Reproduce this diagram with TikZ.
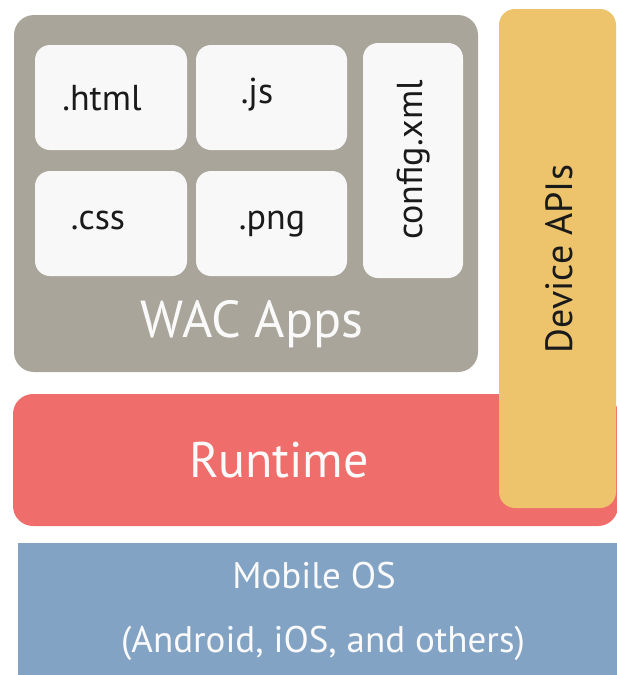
\documentclass[tikz,border=0pt]{standalone}
\usepackage{fontspec}
\setmainfont{PT Sans}
\definecolor{wacgray}{HTML}{A9A59A}
\definecolor{filebox}{HTML}{F8F8F8}
\definecolor{runred}{HTML}{EF6E6C}
\definecolor{devyellow}{HTML}{EDC46C}
\definecolor{osblue}{HTML}{82A3C3}
\definecolor{darktext}{HTML}{1A1A1A}
\definecolor{lighttext}{HTML}{FAFAFA}
\begin{document}
\begin{tikzpicture}[x=1pt,y=-1pt,
  panel/.style={rectangle, inner sep=0pt, outer sep=0pt, anchor=north west, draw=none},
  filecard/.style={panel, fill=filebox, rounded corners=15pt},
  filetext/.style={anchor=base, inner sep=0pt, text=darktext, font=\fontsize{36}{40}\selectfont},
  bigtext/.style={anchor=base, inner sep=0pt, text=lighttext}]
\useasboundingbox (0,0) rectangle (617,675);
\clip (0,0) rectangle (617,675);
% Mobile OS layer
\node[panel, fill=osblue, minimum width=640pt, minimum height=150pt] (os) at (18,543) {};
\node[bigtext, font=\fontsize{37}{42}\selectfont] (ostitle) at (314,588) {Mobile OS};
\node[bigtext, font=\fontsize{37}{42}\selectfont] (ossub) at (323,652) {(Android, iOS, and others)};
% Runtime layer
\node[panel, fill=runred, rounded corners=20pt, minimum width=605pt, minimum height=132pt] (runtime) at (13,394) {};
\node[bigtext, font=\fontsize{50}{56}\selectfont] (runtitle) at (279,477) {Runtime};
% Device APIs
\node[panel, fill=devyellow, rounded corners=16pt, minimum width=117pt, minimum height=499pt] (device) at (499,9) {};
\node[anchor=base, inner sep=0pt, text=darktext, rotate=90, font=\fontsize{38}{44}\selectfont] (devtitle) at (572,259) {Device APIs};
% WAC Apps
\node[panel, fill=wacgray, rounded corners=20pt, minimum width=464pt, minimum height=357pt] (wac) at (14,15) {};
\node[bigtext, font=\fontsize{52}{58}\selectfont] (wactitle) at (252,337) {WAC Apps};
% file cards
\node[filecard, minimum width=152pt, minimum height=105pt] (html) at (35,45) {};
\node[filecard, minimum width=151pt, minimum height=105pt] (js) at (196,45) {};
\node[filecard, minimum width=152pt, minimum height=105pt] (css) at (35,171) {};
\node[filecard, minimum width=151pt, minimum height=105pt] (png) at (196,171) {};
\node[filecard, minimum width=100pt, minimum height=235pt] (config) at (363,43) {};
\node[filetext] (htmltext) at (102,110) {.html};
\node[filetext] (jstext) at (257,103) {.js};
\node[filetext] (csstext) at (98,229) {.css};
\node[filetext] (pngtext) at (272,229) {.png};
\node[filetext, rotate=90] (configtext) at (422,160) {config.xml};
\end{tikzpicture}
\end{document}
